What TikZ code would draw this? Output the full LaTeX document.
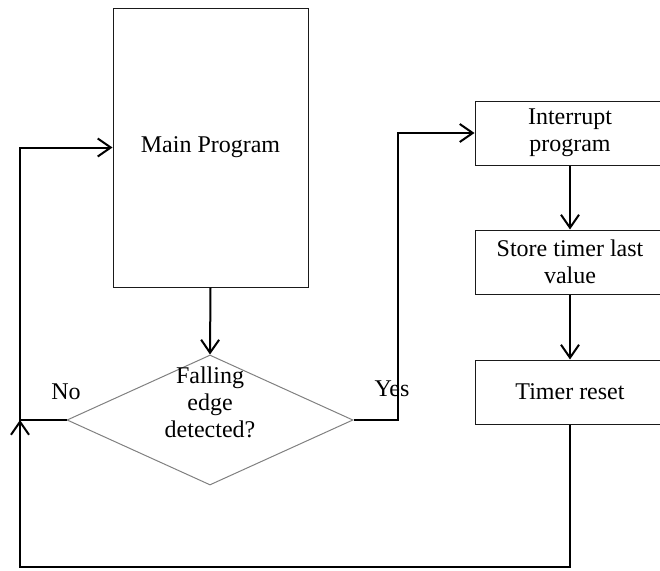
\documentclass[tikz,border=0pt]{standalone}
\usepackage{fontspec}
\setmainfont{Liberation Serif}
\usetikzlibrary{shapes.geometric,arrows.meta}

\begin{document}
\begin{tikzpicture}[x=1pt, y=-1pt,
    every node/.style={font=\fontsize{24}{27}\selectfont, align=center},
    progbox/.style={draw=boxLine, line width=1pt, minimum width=190pt, minimum height=64pt, inner sep=0pt},
    decbox/.style={diamond, draw=diamondLine, line width=1pt, minimum width=286pt, minimum height=130pt, inner sep=0pt},
    flow/.style={draw=flowLine, line width=2pt, -{Straight Barb[length=13pt,width=18pt]}}]
        % Farben
        \definecolor{flowLine}{HTML}{000000}
        \definecolor{boxLine}{HTML}{1A1A1A}
        \definecolor{diamondLine}{HTML}{808080}

        \useasboundingbox (0,0) rectangle (660,570);

        % Hauptprogramm und Abfrage
        \node[draw=boxLine, line width=1pt, minimum width=195pt, minimum height=279pt, inner sep=0pt] (main) at (210.5,147.5) {Main Program};
        \node[decbox] (dec) at (210,420) {};
        \node (dectext) at (210,402) {Falling\\edge\\detected?};
        \node (no) at (66,392) {No};
        \node (yes) at (392,389) {Yes};

        % Interrupt-Kette: Name / Text / y-Position
        \foreach \n/\t/\y in {
            int/{Interrupt\\program}/133,
            store/{Store timer last\\value}/262,
            reset/{Timer reset}/392}
        {
            \node[progbox] (\n) at (570,\y) {\t};
        }
        \foreach \a/\b in {int/store, store/reset}
            \draw[flow] (\a.south) -- (\b.north);

        % Knickpunkte
        \coordinate (leftJoin) at (20,420);
        \coordinate (rightJoin) at (398,420);
        \coordinate (bottomLeft) at (20,567);

        % Verbindungen
        \draw[flow] (main.south) -- (dec.north);
        \draw[flow] (dec.west) -- (leftJoin) |- (main.west);
        \draw[flow] (dec.east) -- (rightJoin) |- (int.west);
        \draw[flow] (reset.south) |- (bottomLeft) -- (leftJoin);
\end{tikzpicture}
\end{document}
